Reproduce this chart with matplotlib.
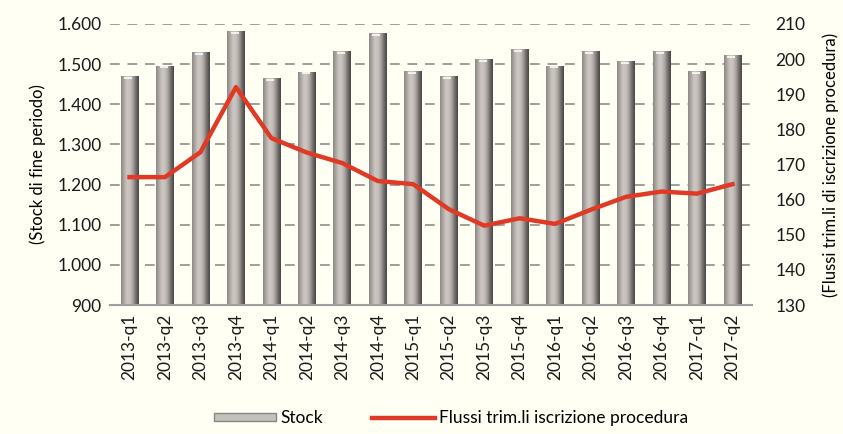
import numpy as np
import matplotlib.pyplot as plt
from matplotlib.patches import Rectangle
from matplotlib.lines import Line2D

plt.rcParams['font.family'] = ['Lato', 'DejaVu Sans']

# dati
trimestri = ['2013-q1', '2013-q2', '2013-q3', '2013-q4',
             '2014-q1', '2014-q2', '2014-q3', '2014-q4',
             '2015-q1', '2015-q2', '2015-q3', '2015-q4',
             '2016-q1', '2016-q2', '2016-q3', '2016-q4',
             '2017-q1', '2017-q2']
stock = [1468, 1494, 1528, 1580, 1463, 1479, 1530, 1575,
         1480, 1468, 1510, 1535, 1494, 1530, 1506, 1530,
         1480, 1520]
flussi = [166.4, 166.4, 173.5, 192.0, 177.5, 173.4, 170.4, 165.3,
          164.4, 157.3, 152.6, 154.7, 153.1, 157.1, 160.8, 162.3,
          161.7, 164.4]

bg = '#fffff4'
fig = plt.figure(figsize=(8.43, 4.34), dpi=100, facecolor=bg)
ax = fig.add_axes([0.1305, 0.297, 0.7615, 0.648])
ax.set_facecolor(bg)

x = np.arange(len(trimestri))
w = 0.5

# gradiente "cilindro" per le barre
cols = np.array([[0.55, 0.53, 0.51], [0.68, 0.66, 0.64], [0.80, 0.78, 0.76],
                 [0.78, 0.76, 0.74], [0.66, 0.64, 0.62], [0.45, 0.43, 0.42],
                 [0.28, 0.27, 0.27]])
pos = np.linspace(0, 1, len(cols))
t = np.linspace(0, 1, 64)
grad = np.stack([np.interp(t, pos, cols[:, k]) for k in range(3)], axis=-1)[None, :, :]

bars = ax.bar(x, np.array(stock) - 900, bottom=900, width=w, color='none', zorder=2)
for b, v in zip(bars, stock):
    x0 = b.get_x()
    ax.imshow(grad, extent=[x0, x0 + w, 900, v], aspect='auto', zorder=2,
              interpolation='bicubic')
    ax.add_patch(Rectangle((x0 + w * 0.2, v - 5), w * 0.45, 5, color='#f2f0ec',
                           zorder=3, lw=0))

ax.set_xlim(-0.55, len(trimestri) - 0.45)
ax.set_ylim(900, 1600)
ax.set_yticks(np.arange(900, 1601, 100))
ax.set_yticklabels([f'{v:,}'.replace(',', '.') for v in range(900, 1601, 100)])
ax.set_xticks(x)
ax.set_xticklabels(trimestri, rotation=90)
ax.grid(axis='y', color='#a09e9a', linestyle=(0, (5, 4)), linewidth=1.4, zorder=0)
ax.set_axisbelow(True)
for s in ['top', 'right', 'left']:
    ax.spines[s].set_visible(False)
ax.spines['bottom'].set_color('#a09e9a')
ax.spines['bottom'].set_linewidth(1.5)
ax.tick_params(length=0, labelsize=12.5, pad=6, colors='#1a1a1a')
ax.set_ylabel('(Stock di fine periodo)', fontsize=12, labelpad=8)

ax2 = ax.twinx()
ax2.plot(x, flussi, color='#e03a26', linewidth=3.2, zorder=5)
ax2.set_ylim(130, 210)
ax2.set_yticks(np.arange(130, 211, 10))
for s in ax2.spines.values():
    s.set_visible(False)
ax2.tick_params(length=0, labelsize=12.5, pad=17, colors='#1a1a1a')
ax2.set_ylabel('(Flussi trim.li di iscrizione procedura)', fontsize=12, labelpad=12)

h1 = Rectangle((0, 0), 1, 1, facecolor='#c4c0bc', edgecolor='#8a8682')
h2 = Line2D([0], [0], color='#e03a26', linewidth=3.2)
fig.legend([h1, h2], ['Stock', 'Flussi trim.li iscrizione procedura'],
           loc='center', bbox_to_anchor=(0.535, 0.037), ncol=2, frameon=False,
           fontsize=12.5, handlelength=3.6, handleheight=0.35, columnspacing=2.8,
           handletextpad=0.25)

fig.savefig('out.png', dpi=100, facecolor=bg)
